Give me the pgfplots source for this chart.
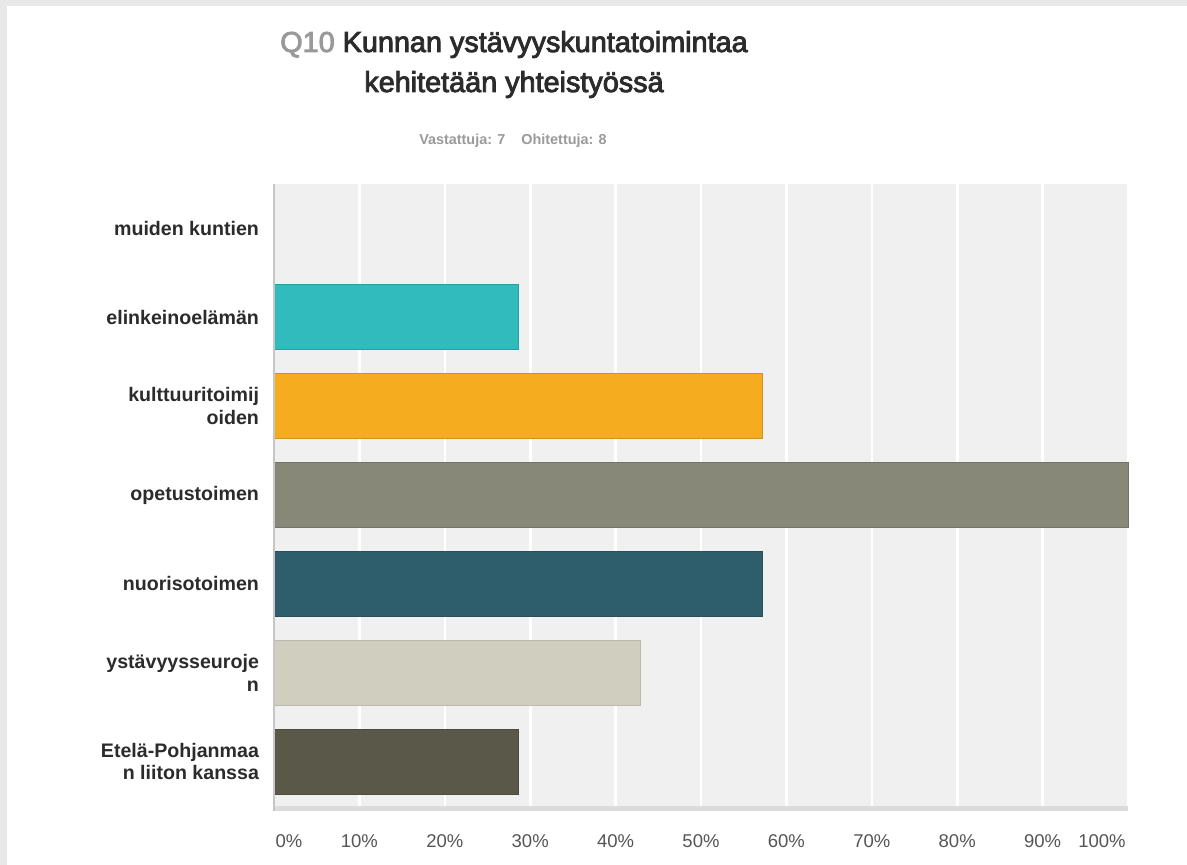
\documentclass[border=0pt]{standalone}
\usepackage{pgfplots}
\pgfplotsset{compat=1.18}
\usepackage{fontspec}
\setmainfont{Liberation Sans}
\newfontfamily\titlefont[FakeBold=3]{Liberation Sans}
\definecolor{cA}{HTML}{31BBBD}
\definecolor{cB}{HTML}{F5AD1F}
\definecolor{cC}{HTML}{878877}
\definecolor{cD}{HTML}{2E5E6B}
\definecolor{cE}{HTML}{D0CEBE}
\definecolor{cF}{HTML}{5A5848}
\definecolor{plotbg}{HTML}{F0F0F0}
\definecolor{strip}{HTML}{DCDCDC}
\definecolor{frame}{HTML}{E8E8E8}
\definecolor{titlecol}{HTML}{2B2B2B}
\definecolor{qcol}{HTML}{999999}
\definecolor{subcol}{HTML}{9A9A9A}
\definecolor{tickcol}{HTML}{555555}
\begin{document}
\begin{tikzpicture}[x=0.5pt,y=-0.5pt]
\fill[frame] (0,0) rectangle (1187,865);
\fill[white] (7,6) rectangle (1187,865);
\useasboundingbox (0,0) rectangle (1187,865);
\node[anchor=base, text=titlecol, font=\titlefont\fontsize{14.4}{17}\selectfont] at (514,52) {\textcolor{qcol}{Q10} Kunnan ystävyyskuntatoimintaa};
\node[anchor=base, text=titlecol, font=\titlefont\fontsize{14.4}{17}\selectfont] at (514,92) {kehitetään yhteistyössä};
\node[anchor=base, text=subcol, font=\fontsize{7.2}{9}\selectfont\bfseries] at (513,145) {Vastattuja: 7\hspace{8pt}Ohitettuja: 8};
\begin{axis}[
  at={(137pt,-403pt)}, anchor=south west,
  scale only axis, width=427pt, height=311pt,
  xbar, bar width=32.5pt, bar shift=0pt,
  xmin=0, xmax=100, ymin=-0.5, ymax=6.5, y dir=reverse,
  ytick={0,1,2,3,4,5,6},
  yticklabels={muiden kuntien, elinkeinoelämän, kulttuuritoimij\\oiden, opetustoimen, nuorisotoimen, ystävyysseuroje\\n, Etelä-Pohjanmaa\\n liiton kanssa},
  yticklabel style={align=right, anchor=east, xshift=-4pt, text=titlecol, font=\fontsize{9.8}{11.2}\selectfont\bfseries},
  xtick={0,10,20,30,40,50,60,70,80,90,100},
  xticklabels={\hspace*{15pt}0\%, 10\%, 20\%, 30\%, 40\%, 50\%, 60\%, 70\%, 80\%, 90\%, 100\%\hspace*{26pt}},
  xticklabel style={anchor=north, yshift=-10.5pt, text=tickcol, font=\fontsize{9.25}{11}\selectfont},
  axis line style={draw=none}, major tick length=0pt,
  xmajorgrids, grid style={white, line width=1.3pt},
  axis background/.style={fill=plotbg},
  clip=false,
]
\addplot[fill=cA, draw=none] coordinates {(0,0)};
\addplot[fill=cA, draw=cA!85!black, line width=0.4pt] coordinates {(28.57,1)};
\addplot[fill=cB, draw=cB!85!black, line width=0.4pt] coordinates {(57.14,2)};
\addplot[fill=cC, draw=cC!85!black, line width=0.4pt] coordinates {(100,3)};
\addplot[fill=cD, draw=cD!85!black, line width=0.4pt] coordinates {(57.14,4)};
\addplot[fill=cE, draw=cE!90!black, line width=0.4pt] coordinates {(42.86,5)};
\addplot[fill=cF, draw=cF!85!black, line width=0.4pt] coordinates {(28.57,6)};
\fill[strip] (axis cs:0,6.5) rectangle ([yshift=-2.7pt]axis cs:100,6.5);
\draw[strip!90!black, line width=0.8pt] (axis cs:0,-0.5) -- ([yshift=-2.7pt]axis cs:0,6.5);
\end{axis}
\end{tikzpicture}
\end{document}
